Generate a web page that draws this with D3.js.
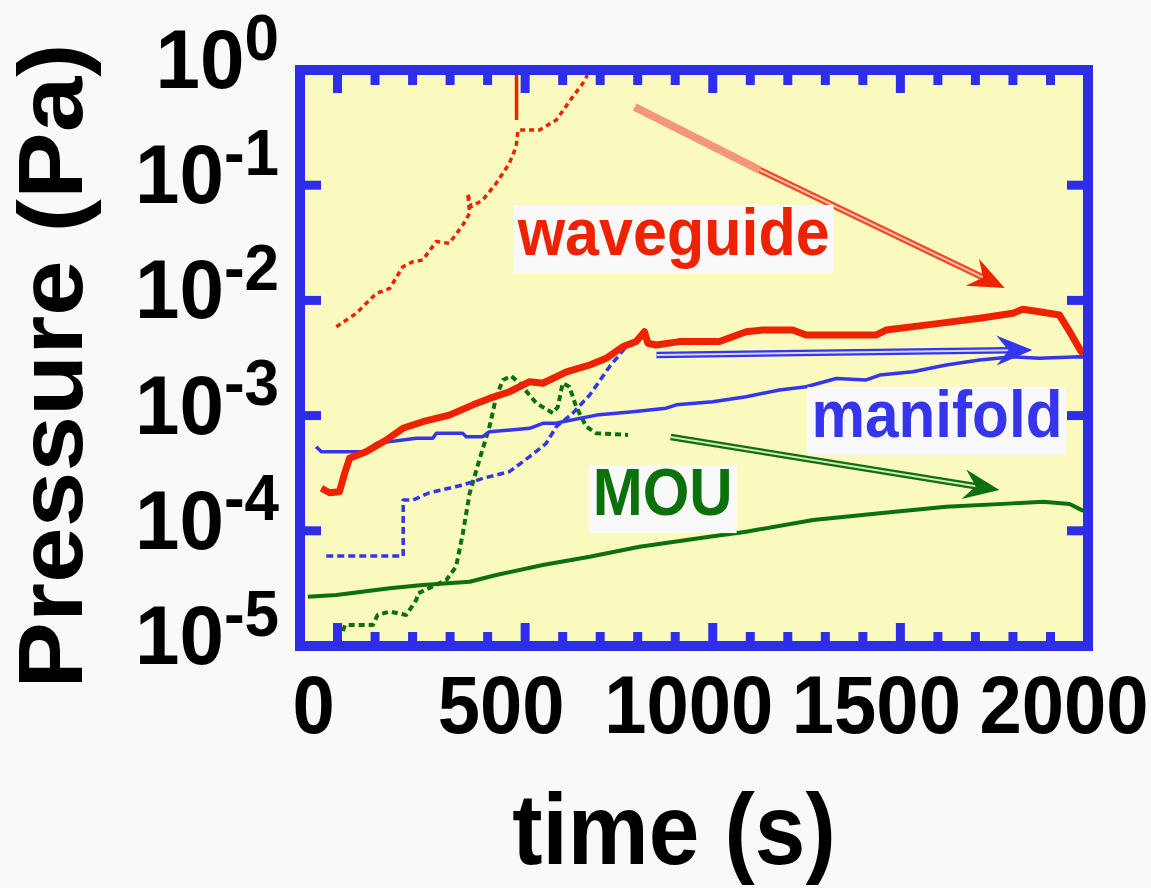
<!DOCTYPE html>
<html>
<head>
<meta charset="utf-8">
<script src="https://cdn.jsdelivr.net/npm/d3@7"></script>
<style>
  html, body { margin: 0; padding: 0; background: #f9f9f9; }
  svg { display: block; }
  text { font-family: "Liberation Sans", Arial, Helvetica, sans-serif; font-weight: bold; }
</style>
</head>
<body>
<svg id="chart" width="1151" height="888"></svg>
<script>
// ---- data: time (s) and pressure (Pa) ----
const waveguideT = [-43, -21, 5, 19, 32, 76, 130, 174, 227, 298, 361, 405, 458, 512, 547, 610, 672, 716, 760, 796, 818, 827, 849, 911, 1018, 1089, 1134, 1213, 1249, 1436, 1462, 1604, 1711, 1800, 1826, 1871, 1924, 1951, 1982, 1999];
const waveguideP = [2.34e-4, 2.14e-4, 2.18e-4, 3.16e-4, 4.26e-4, 4.86e-4, 6.14e-4, 7.76e-4, 8.85e-4, 1.01e-3, 1.24e-3, 1.41e-3, 1.61e-3, 1.97e-3, 1.91e-3, 2.40e-3, 2.75e-3, 3.14e-3, 3.96e-3, 4.39e-3, 5.35e-3, 4.25e-3, 4.10e-3, 4.39e-3, 4.39e-3, 5.35e-3, 5.53e-3, 5.53e-3, 5.01e-3, 5.01e-3, 5.53e-3, 6.32e-3, 7.00e-3, 7.73e-3, 8.38e-3, 7.98e-3, 7.46e-3, 5.35e-3, 3.59e-3, 3.49e-3];

const waveguideDashT = [-3, 50, 103, 139, 174, 201, 227, 263, 298, 334, 352, 347, 356, 387, 423, 458, 476, 481, 495, 538, 583, 627, 654, 666];
const waveguideDashP = [5.91e-3, 7.73e-3, 1.15e-2, 1.27e-2, 1.96e-2, 2.17e-2, 2.24e-2, 3.24e-2, 3.13e-2, 4.52e-2, 5.71e-2, 8.5e-2, 6.5e-2, 7.44e-2, 0.104, 0.155, 0.216, 0.301, 0.301, 0.301, 0.368, 0.587, 0.767, 0.905];

const waveguideRiseT = [477, 477];
const waveguideRiseP = [0.368, 1.0];

const manifoldT = [-57, -43, 76, 103, 210, 254, 263, 334, 343, 387, 405, 512, 547, 583, 600, 690, 787, 876, 903, 1000, 1089, 1178, 1249, 1329, 1409, 1445, 1533, 1622, 1711, 1800, 1871, 1978, 1999];
const manifoldP = [5.37e-4, 4.86e-4, 4.86e-4, 5.74e-4, 6.35e-4, 6.35e-4, 7.01e-4, 7.01e-4, 6.56e-4, 6.56e-4, 7.24e-4, 7.76e-4, 8.57e-4, 8.57e-4, 8.85e-4, 1.01e-3, 1.08e-3, 1.16e-3, 1.24e-3, 1.32e-3, 1.46e-3, 1.67e-3, 1.78e-3, 2.10e-3, 2.04e-3, 2.25e-3, 2.40e-3, 2.75e-3, 3.04e-3, 3.24e-3, 3.14e-3, 3.24e-3, 3.23e-3];

const manifoldDashT = [-30, 175, 175, 201, 245, 334, 387, 458, 512, 556, 583, 627, 672, 725, 769, 796];
const manifoldDashP = [6.04e-5, 6.04e-5, 1.85e-4, 1.85e-4, 2.14e-4, 2.50e-4, 2.85e-4, 3.26e-4, 4.40e-4, 5.74e-4, 8.02e-4, 1.05e-3, 1.51e-3, 2.66e-3, 3.96e-3, 4.53e-3];

const mouT = [-79, -3, 139, 227, 352, 423, 547, 672, 805, 991, 1089, 1267, 1445, 1622, 1800, 1880, 1951, 1982, 1999];
const mouP = [2.68e-5, 2.77e-5, 3.17e-5, 3.39e-5, 3.61e-5, 4.13e-5, 5.05e-5, 5.96e-5, 7.28e-5, 8.89e-5, 9.82e-5, 1.24e-4, 1.42e-4, 1.62e-4, 1.73e-4, 1.79e-4, 1.71e-4, 1.52e-4, 1.46e-4];

const mouDashT = [14, 20, 94, 107, 139, 183, 210, 214, 290, 316, 334, 352, 378, 405, 423, 441, 463, 485, 530, 574, 587, 600, 618, 636, 663, 690, 774];
const mouDashP = [1.35e-5, 1.52e-5, 1.52e-5, 1.86e-5, 1.99e-5, 1.86e-5, 2.51e-5, 2.86e-5, 3.74e-5, 4.89e-5, 9.51e-5, 2.11e-4, 4.12e-4, 8.02e-4, 1.46e-3, 2.04e-3, 2.21e-3, 1.91e-3, 1.28e-3, 1.05e-3, 1.19e-3, 1.91e-3, 1.78e-3, 1.19e-3, 8.02e-4, 7.01e-4, 6.79e-4];

// axis ticks
const xMajorTicks = [0, 500, 1000, 1500, 2000];
const xMinorTicks = [100, 200, 300, 400, 600, 700, 800, 900, 1100, 1200, 1300, 1400, 1600, 1700, 1800, 1900];
const yDecadeTicks = [1, 1e-1, 1e-2, 1e-3, 1e-4, 1e-5];
const yTickExponents = ["0", "-1", "-2", "-3", "-4", "-5"];

// annotation labels and arrows, in data units (time, pressure)
const labelNames = ["waveguide", "manifold", "MOU"];
const labelT = [480, 1263, 680];
const labelP = [0.0248, 6.52e-4, 1.37e-4];
const arrowStartT = [792, 850, 888];
const arrowStartP = [0.477, 3.36e-3, 6.52e-4];
const arrowTipT = [1778, 1852, 1764];
const arrowTipP = [0.01282, 3.71e-3, 2.26e-4];
const waveguideArrowBendT = 1125;
const waveguideArrowBendP = 0.1355;

// ---- layout ----
const svg = d3.select("#chart");
const x = d3.scaleLinear().domain([-100, 2000]).range([300, 1088]);
const y = d3.scaleLog().domain([1e-5, 1]).range([646, 70]);

const RED = "#ee2200", BLUE = "#3535ec", GREEN = "#0c700c", FRAME = "#2d2dea";
const PLOT_BG = "#fafabe";

const zip = (ts, ps) => ts.map((t, i) => [t, ps[i]]);
const line = d3.line().x(d => x(d[0])).y(d => y(d[1]));

svg.append("defs").append("clipPath").attr("id", "plotClip")
  .append("rect").attr("x", 300).attr("y", 70).attr("width", 788).attr("height", 576);

svg.append("rect").attr("x", 300).attr("y", 70).attr("width", 788).attr("height", 576)
  .attr("fill", PLOT_BG);

const plot = svg.append("g").attr("clip-path", "url(#plotClip)");

function drawSeries(ts, ps, color, width, dash) {
  plot.append("path").datum(zip(ts, ps))
    .attr("d", line).attr("fill", "none")
    .attr("stroke", color).attr("stroke-width", width)
    .attr("stroke-linejoin", "round")
    .attr("stroke-dasharray", dash || null);
}

drawSeries(mouT, mouP, GREEN, 4);
drawSeries(mouDashT, mouDashP, GREEN, 4, "6,4");
drawSeries(manifoldDashT, manifoldDashP, BLUE, 3.5, "7,4");
drawSeries(manifoldT, manifoldP, BLUE, 3.5);
drawSeries(waveguideDashT, waveguideDashP, RED, 3.5, "5,4");
drawSeries(waveguideRiseT, waveguideRiseP, RED, 3.5);
drawSeries(waveguideT, waveguideP, RED, 7);

// ---- double-line arrows ----
function arrowHead(tip, from, color) {
  const dx = tip[0] - from[0], dy = tip[1] - from[1];
  const ang = Math.atan2(dy, dx) * 180 / Math.PI;
  plot.append("path")
    .attr("d", "M0,0 L-36,-15 L-24,0 L-36,15 Z")
    .attr("transform", `translate(${tip[0]},${tip[1]}) rotate(${ang})`)
    .attr("fill", color);
}
function doubleLine(p0, p1, outer, inner) {
  const back = 22;
  const len = Math.hypot(p1[0] - p0[0], p1[1] - p0[1]);
  const e = [p1[0] - (p1[0] - p0[0]) * back / len, p1[1] - (p1[1] - p0[1]) * back / len];
  plot.append("line").attr("x1", p0[0]).attr("y1", p0[1]).attr("x2", e[0]).attr("y2", e[1])
    .attr("stroke", outer).attr("stroke-width", 6.5);
  plot.append("line").attr("x1", p0[0]).attr("y1", p0[1]).attr("x2", e[0]).attr("y2", e[1])
    .attr("stroke", inner).attr("stroke-width", 2);
}
const arrowOuter = ["#f04a2a", BLUE, GREEN];
const arrowInner = ["#f9c2a6", "#d6d6f6", "#d6e8b8"];
labelNames.forEach((name, i) => {
  const s = [x(arrowStartT[i]), y(arrowStartP[i])];
  const tip = [x(arrowTipT[i]), y(arrowTipP[i])];
  if (i === 0) {
    const bend = [x(waveguideArrowBendT), y(waveguideArrowBendP)];
    plot.append("line").attr("x1", s[0]).attr("y1", s[1]).attr("x2", bend[0]).attr("y2", bend[1])
      .attr("stroke", "#f4967a").attr("stroke-width", 8);
    doubleLine(bend, tip, arrowOuter[i], arrowInner[i]);
    arrowHead(tip, s, RED);
  } else {
    doubleLine(s, tip, arrowOuter[i], arrowInner[i]);
    arrowHead(tip, s, arrowOuter[i]);
  }
});

// ---- series labels on white boxes ----
const labelColors = [RED, BLUE, GREEN];
const labelWidths = [312, 251, 140];
labelNames.forEach((name, i) => {
  const lx = x(labelT[i]), ly = y(labelP[i]);
  svg.append("rect")
    .attr("x", lx - 4).attr("y", ly - 50)
    .attr("width", labelWidths[i] + 8).attr("height", 68)
    .attr("fill", "#f9f9f9");
  svg.append("text")
    .attr("transform", `translate(${lx},${ly}) scale(1,1.1)`)
    .attr("textLength", labelWidths[i]).attr("lengthAdjust", "spacingAndGlyphs")
    .attr("font-size", 61).attr("fill", labelColors[i])
    .text(name);
});

// ---- frame and ticks ----
const frame = svg.append("g");
const tickStyle = sel => sel.attr("stroke", FRAME).attr("stroke-width", 9);
xMajorTicks.forEach(v => {
  frame.append("line").attr("x1", x(v)).attr("x2", x(v)).attr("y1", 646).attr("y2", 623).call(tickStyle);
  frame.append("line").attr("x1", x(v)).attr("x2", x(v)).attr("y1", 70).attr("y2", 93).call(tickStyle);
});
xMinorTicks.forEach(v => {
  frame.append("line").attr("x1", x(v)).attr("x2", x(v)).attr("y1", 646).attr("y2", 632).call(tickStyle);
  frame.append("line").attr("x1", x(v)).attr("x2", x(v)).attr("y1", 70).attr("y2", 85).call(tickStyle);
});
yDecadeTicks.forEach(v => {
  frame.append("line").attr("x1", 300).attr("x2", 321).attr("y1", y(v)).attr("y2", y(v)).call(tickStyle);
  frame.append("line").attr("x1", 1088).attr("x2", 1067).attr("y1", y(v)).attr("y2", y(v)).call(tickStyle);
});
frame.append("rect").attr("x", 300).attr("y", 70).attr("width", 788).attr("height", 576)
  .attr("fill", "none").attr("stroke", FRAME).attr("stroke-width", 10);

// ---- tick labels ----
xMajorTicks.forEach(v => {
  svg.append("text")
    .attr("transform", `translate(${x(v) - 24},733) scale(1,1.07)`)
    .attr("text-anchor", "middle").attr("font-size", 76).attr("fill", "#000")
    .text(d3.format("d")(v));
});
yDecadeTicks.forEach((v, i) => {
  const t = svg.append("text")
    .attr("transform", `translate(279,${y(v) + 18}) scale(1,1.05)`)
    .attr("text-anchor", "end").attr("font-size", 80).attr("fill", "#000");
  t.append("tspan").text("10");
  t.append("tspan").attr("dy", -27).attr("font-size", 62).text(yTickExponents[i]);
});

// ---- axis titles ----
svg.append("text")
  .attr("transform", "translate(674,864) scale(1,1.1)")
  .attr("text-anchor", "middle").attr("font-size", 91).attr("fill", "#000")
  .text("time (s)");
svg.append("text")
  .attr("transform", "translate(82,366) rotate(-90) scale(1.1,1)")
  .attr("text-anchor", "middle").attr("font-size", 91).attr("fill", "#000")
  .text("Pressure (Pa)");
</script>
</body>
</html>
